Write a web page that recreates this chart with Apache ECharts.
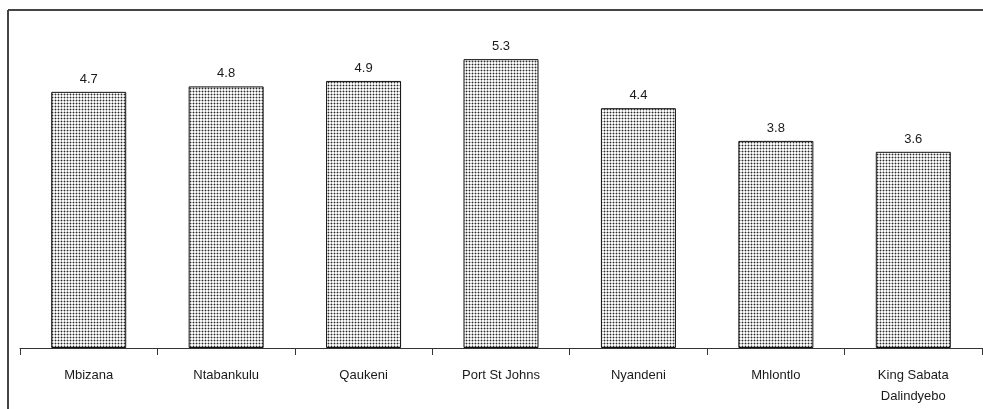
<!DOCTYPE html>
<html>
<head>
<meta charset="utf-8">
<script src="https://cdn.jsdelivr.net/npm/echarts@6/dist/echarts.min.js"></script>
<style>
html,body{margin:0;padding:0;background:#fff;}
#chart{width:983px;height:409px;}
</style>
</head>
<body>
<div id="chart"></div>
<script>
var categories = ['Mbizana', 'Ntabankulu', 'Qaukeni', 'Port St Johns', 'Nyandeni', 'Mhlontlo', 'King Sabata\nDalindyebo'];
var values = [4.7, 4.8, 4.9, 5.3, 4.4, 3.8, 3.6];

function makePattern() {
  var c = document.createElement('canvas');
  c.width = 3; c.height = 3;
  var ctx = c.getContext('2d');
  ctx.fillStyle = '#f8f8f8';
  ctx.fillRect(0, 0, 3, 3);
  ctx.fillStyle = '#b0b0b0';
  ctx.fillRect(1, 0, 1, 1);
  ctx.fillRect(1, 2, 1, 1);
  ctx.fillRect(0, 1, 1, 1);
  ctx.fillRect(2, 1, 1, 1);
  ctx.fillStyle = '#2a2a2a';
  ctx.fillRect(1, 1, 1, 1);
  return c;
}

var chart = echarts.init(document.getElementById('chart'), null, {renderer: 'canvas'});
chart.setOption({
  animation: false,
  backgroundColor: '#fff',
  grid: {left: 20, right: 1, top: 21, bottom: 61, containLabel: false},
  xAxis: {
    type: 'category',
    data: categories,
    boundaryGap: true,
    axisLine: {show: true, lineStyle: {color: '#333', width: 1}},
    axisTick: {show: true, length: 7, lineStyle: {color: '#333', width: 1}},
    axisLabel: {
      margin: 17,
      fontFamily: 'Liberation Sans, Arial, sans-serif',
      fontSize: 13,
      color: '#1a1a1a',
      lineHeight: 21,
      interval: 0
    }
  },
  yAxis: {
    type: 'value',
    min: 0,
    max: 6,
    show: false,
    splitLine: {show: false}
  },
  series: [{
    type: 'bar',
    data: values,
    barWidth: 75,
    itemStyle: {
      color: {image: makePattern(), repeat: 'repeat'},
      borderColor: '#111',
      borderWidth: 1
    },
    label: {
      show: true,
      position: 'top',
      distance: 6,
      fontFamily: 'Liberation Sans, Arial, sans-serif',
      fontSize: 13,
      color: '#1a1a1a'
    }
  }],
  graphic: [
    {type: 'line', shape: {x1: 8, y1: 10, x2: 983, y2: 10}, style: {stroke: '#444', lineWidth: 2}},
    {type: 'line', shape: {x1: 8, y1: 10, x2: 8, y2: 409}, style: {stroke: '#444', lineWidth: 2}}
  ]
});
</script>
</body>
</html>
